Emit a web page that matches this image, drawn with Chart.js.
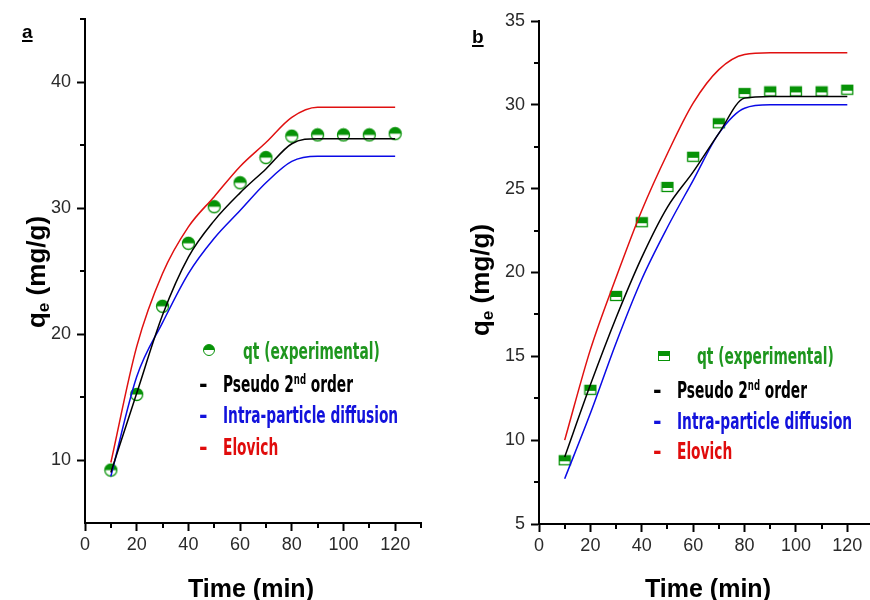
<!DOCTYPE html>
<html><head><meta charset="utf-8">
<script src="https://cdn.jsdelivr.net/npm/chart.js@4/dist/chart.umd.min.js"></script>
<style>
html,body{margin:0;padding:0;width:870px;height:600px;overflow:hidden;background:#fff;position:relative;}
canvas{position:absolute;top:0;}
.t{position:absolute;white-space:nowrap;font-family:"Liberation Sans",Arial,sans-serif;color:#000;}
.ax{font-weight:bold;font-size:25px;line-height:25px;}
.yax{font-size:26px;line-height:26px;}
.xt{transform:translateX(-50%);}
.yt{transform:translate(-50%,-50%) rotate(-90deg);}
.yt sub{font-size:66%;vertical-align:-0.25em;line-height:0;}
.pl{font-weight:bold;font-size:19px;line-height:19px;text-decoration:underline;text-decoration-thickness:2px;text-underline-offset:2px;}
.leg{font-family:"DejaVu Sans Condensed","DejaVu Sans",sans-serif;font-stretch:condensed;font-weight:bold;font-size:23px;line-height:23px;transform:scaleX(0.665);transform-origin:0 0;}
.leg.dash{transform:none;}
.leg sup{font-size:62%;vertical-align:0.55em;line-height:0;}
.g{color:#1e961e}.k{color:#000}.b{color:#1212dc}.r{color:#e00c0c}
.mc{position:absolute;width:10px;height:10px;border:1.4px solid #079207;border-radius:50%;background:linear-gradient(#079207 50%,#fff 50%);}
.ms{position:absolute;width:10px;height:8px;border:1.4px solid #079207;background:linear-gradient(#079207 55%,#fff 55%);}
</style>
</head><body>
<canvas id="ca" width="435" height="600" style="left:0"></canvas>
<canvas id="cb" width="445" height="600" style="left:435px"></canvas>

<div class="t pl" style="left:22px;top:22px">a</div>
<div class="t pl" style="left:472px;top:27px">b</div>

<div class="t ax xt" style="left:251px;top:576px">Time (min)</div>
<div class="t ax xt" style="left:708px;top:576px">Time (min)</div>
<div class="t ax yax yt" style="left:36px;top:272px">q<sub>e</sub> (mg/g)</div>
<div class="t ax yax yt" style="left:480px;top:280px">q<sub>e</sub> (mg/g)</div>

<!-- legend a -->
<div class="mc" style="left:203px;top:344px"></div>
<div class="t leg g" style="left:243px;top:340px">qt (experimental)</div>
<div class="t leg dash k" style="left:199px;top:373px">-</div>
<div class="t leg k" style="left:223px;top:373px">Pseudo 2<sup>nd</sup> order</div>
<div class="t leg dash b" style="left:199px;top:404px">-</div>
<div class="t leg b" style="left:223px;top:404px">Intra-particle diffusion</div>
<div class="t leg dash r" style="left:199px;top:436px">-</div>
<div class="t leg r" style="left:223px;top:436px">Elovich</div>

<!-- legend b -->
<div class="ms" style="left:658px;top:351px"></div>
<div class="t leg g" style="left:697px;top:345px">qt (experimental)</div>
<div class="t leg dash k" style="left:653px;top:379px">-</div>
<div class="t leg k" style="left:677px;top:379px">Pseudo 2<sup>nd</sup> order</div>
<div class="t leg dash b" style="left:653px;top:410px">-</div>
<div class="t leg b" style="left:677px;top:410px">Intra-particle diffusion</div>
<div class="t leg dash r" style="left:653px;top:440px">-</div>
<div class="t leg r" style="left:677px;top:440px">Elovich</div>

<script>
// ---- data ----
const TIME = [10,20,30,40,50,60,70,80,90,100,110,120];

// panel a
const A_EXP = [9.2,15.2,22.2,27.2,30.1,32.0,34.0,35.7,35.8,35.8,35.8,35.9];
const A_PSO = [9.0,15.3,21.5,26.1,29.0,31.2,33.1,35.1,35.5,35.5,35.5,35.5];
const A_IPD = [8.7,16.6,20.9,24.8,27.6,29.8,32.0,33.7,34.1,34.1,34.1,34.1];
const A_ELO = [9.8,19.0,24.8,28.5,30.9,33.3,35.2,37.2,38.0,38.0,38.0,38.0];

// panel b
const B_EXP = [8.8,13.0,18.6,23.0,25.1,26.9,28.9,30.7,30.8,30.8,30.8,30.9];
const B_PSO = [9.0,13.3,17.3,20.9,23.9,26.0,28.3,30.4,30.5,30.5,30.5,30.5];
const B_IPD = [7.7,11.6,15.8,19.6,22.7,25.5,28.3,29.8,30.0,30.0,30.0,30.0];
const B_ELO = [10.0,15.4,19.7,23.7,27.1,30.1,32.1,33.0,33.1,33.1,33.1,33.1];

// ticks
const X_TICKS = [0,20,40,60,80,100,120];
const X_MINOR = [10,30,50,70,90,110,130];
const A_Y_TICKS = [10,20,30,40];
const A_Y_MINOR = [15,25,35,45];
const B_Y_TICKS = [5,10,15,20,25,30,35];
const B_Y_MINOR = [7.5,12.5,17.5,22.5,27.5,32.5];

// ---- markers ----
const GREEN = '#079207';
function circleMarker(){
  const c=document.createElement('canvas'); c.width=15; c.height=15;
  const g=c.getContext('2d'); const r=6;
  g.fillStyle='#fff'; g.beginPath(); g.arc(7.5,7.5,r,0,2*Math.PI); g.fill();
  g.fillStyle=GREEN; g.beginPath(); g.arc(7.5,7.5,r,Math.PI,2*Math.PI); g.closePath(); g.fill();
  g.strokeStyle=GREEN; g.lineWidth=1.3; g.beginPath(); g.arc(7.5,7.5,r,0,2*Math.PI); g.stroke();
  return c;
}
function squareMarker(){
  const c=document.createElement('canvas'); c.width=14; c.height=12;
  const g=c.getContext('2d');
  g.fillStyle='#fff'; g.fillRect(1,1,12,10);
  g.fillStyle=GREEN; g.fillRect(1,1,12,6);
  g.strokeStyle=GREEN; g.lineWidth=1.3; g.strokeRect(1.5,1.5,11,9);
  return c;
}

function pts(xs, ys){ return xs.map((x,i)=>({x:x, y:ys[i]})); }

function lineDs(label, ys, color){
  return {label, data: pts(TIME, ys), showLine:true, borderColor:color, borderWidth:1.5,
    pointRadius:0, pointHoverRadius:0, cubicInterpolationMode:'monotone', fill:false};
}

function minorPlugin(xm, ym){
  return {id:'minorTicks', afterDraw(chart){
    const ctx=chart.ctx, xs=chart.scales.x, ys=chart.scales.y;
    ctx.save(); ctx.strokeStyle='#000'; ctx.lineWidth=2;
    xm.forEach(v=>{const p=Math.round(xs.getPixelForValue(v)); ctx.beginPath(); ctx.moveTo(p,xs.top); ctx.lineTo(p,xs.top+5); ctx.stroke();});
    ym.forEach(v=>{const p=Math.round(ys.getPixelForValue(v)); ctx.beginPath(); ctx.moveTo(ys.right,p); ctx.lineTo(ys.right-5,p); ctx.stroke();});
    ctx.restore();
  }};
}

function makeChart(id, d){
  const tickFont = {family:'"Liberation Sans", Arial, sans-serif', size:18};
  return new Chart(document.getElementById(id), {
    type:'scatter',
    data:{datasets:[
      lineDs('Pseudo 2nd order', d.pso, '#000000'),
      lineDs('Intra-particle diffusion', d.ipd, '#0a0ae6'),
      lineDs('Elovich', d.elo, '#e01010'),
      {label:'qt (experimental)', data: pts(TIME, d.exp), pointStyle:d.marker, pointRadius:6, showLine:false}
    ]},
    options:{
      responsive:false, animation:false, events:[],
      layout:{padding:d.pad},
      plugins:{legend:{display:false}, tooltip:{enabled:false}},
      scales:{
        x:{type:'linear', min:0, max:130,
          border:{color:'#000', width:2},
          grid:{drawOnChartArea:false, drawTicks:true, tickLength:8, tickColor:'#000', tickWidth:2, color:'#000'},
          ticks:{font:tickFont, color:'#2a2a2a', padding:3, autoSkip:false, maxRotation:0},
          afterBuildTicks:s=>{s.ticks = X_TICKS.map(v=>({value:v}));},
          afterFit:s=>{s.height = d.xh;}
        },
        y:{type:'linear', min:d.ymin, max:d.ymax,
          border:{color:'#000', width:2},
          grid:{drawOnChartArea:false, drawTicks:true, tickLength:8, tickColor:'#000', tickWidth:2, color:'#000'},
          ticks:{font:tickFont, color:'#2a2a2a', padding:6, autoSkip:false},
          afterBuildTicks:s=>{s.ticks = d.yticks.map(v=>({value:v}));},
          afterFit:s=>{s.width = d.yw;}
        }
      }
    },
    plugins:[minorPlugin(d.xminor, d.yminor)]
  });
}

makeChart('ca', {exp:A_EXP, pso:A_PSO, ipd:A_IPD, elo:A_ELO, marker:circleMarker(),
  pad:{left:0, right:14, top:19, bottom:0}, xh:77, yw:85, ymin:5, ymax:45,
  yticks:A_Y_TICKS, xminor:X_MINOR, yminor:A_Y_MINOR});
makeChart('cb', {exp:B_EXP, pso:B_PSO, ipd:B_IPD, elo:B_ELO, marker:squareMarker(),
  pad:{left:0, right:4, top:21, bottom:0}, xh:76, yw:104, ymin:5, ymax:35,
  yticks:B_Y_TICKS, xminor:X_MINOR, yminor:B_Y_MINOR});
</script>
</body></html>
